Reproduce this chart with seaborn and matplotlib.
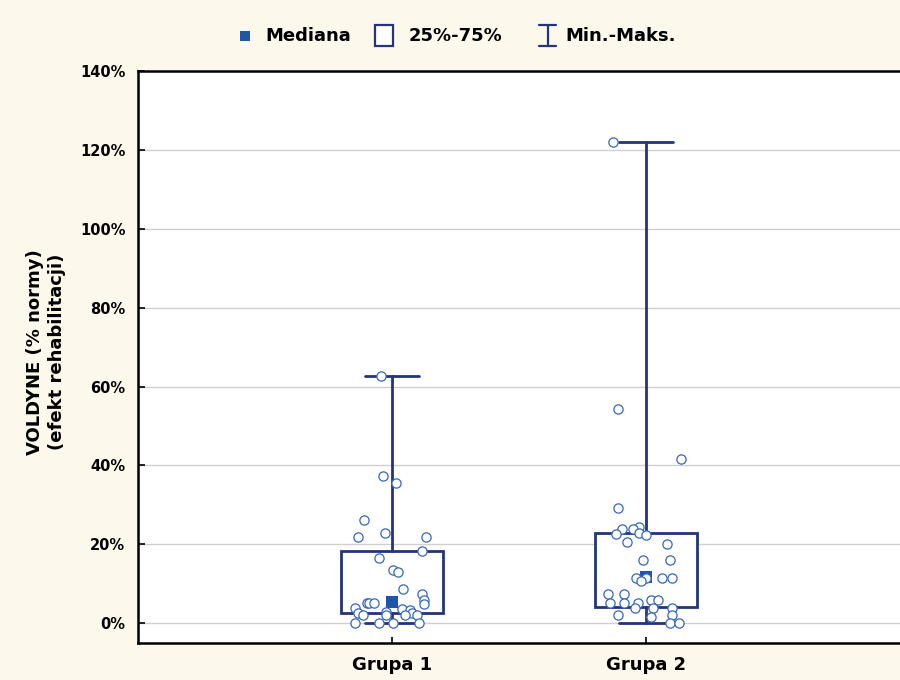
import numpy as np
import pandas as pd
import matplotlib
matplotlib.use("Agg")
import matplotlib.pyplot as plt
import seaborn as sns
from matplotlib.lines import Line2D
from matplotlib.patches import Rectangle
from matplotlib.ticker import FuncFormatter

# --- data -----------------------------------------------------------------
groups = ["Grupa 1", "Grupa 2"]

# individual observations (% of norm)
values_g1 = [62.7, 37.4, 35.6, 26.1, 21.9, 23.0, 21.9, 18.3, 16.5, 13.5, 13.0,
             8.7, 7.5, 6.0, 5.0, 5.2, 5.2, 5.2, 4.0, 2.7, 2.0, 2.9, 2.0, 3.5,
             3.3, 2.7, 2.0, 2.0, 0.0, 0.0, 0.0, 0.0]
values_g2 = [122.0, 54.3, 41.7, 29.1, 24.5, 23.8, 23.8, 22.6, 22.8, 22.4, 20.7,
             20.2, 16.0, 16.0, 11.6, 11.4, 10.7, 11.6, 11.6, 7.5, 7.5, 5.2, 5.2,
             5.2, 3.9, 5.8, 5.8, 3.9, 4.0, 2.0, 1.5, 2.0, 0.0, 0.0]

# horizontal spread of the points around each group centre
jitter_g1 = [-0.043, -0.034, 0.014, -0.109, -0.135, -0.026, 0.135, 0.117, -0.052,
             0.003, 0.022, 0.042, 0.117, 0.126, 0.126, -0.100, -0.089, -0.072,
             -0.144, -0.135, -0.115, -0.023, -0.023, 0.040, 0.072, 0.080, 0.053,
             0.098, -0.144, -0.052, 0.003, 0.106]
jitter_g2 = [-0.131, -0.111, 0.139, -0.111, -0.028, -0.094, -0.052, -0.120, -0.028,
             0.001, -0.074, 0.082, -0.013, 0.093, -0.039, 0.001, -0.019, 0.064,
             0.103, -0.149, -0.085, -0.141, -0.085, -0.032, -0.045, 0.018, 0.046,
             0.027, 0.103, -0.111, 0.018, 0.103, 0.093, 0.129]

# summary statistics shown by the boxes
medians = [5.5, 11.7]
q1 = [2.6, 4.2]
q3 = [18.2, 22.8]
mins = [0.0, 0.0]
maxs = [62.6, 122.0]

yticks = [0, 20, 40, 60, 80, 100, 120, 140]
legend_labels = ["Mediana", "25%-75%", "Min.-Maks."]

# --- style ----------------------------------------------------------------
NAVY = "#25337A"
BLUE = "#1F57A8"
POINT = "#3567B8"
CREAM = "#FDF8EC"
FONT = ["DejaVu Sans"]

sns.set_theme(style="white")
plt.rcParams["font.family"] = FONT
plt.rcParams["font.weight"] = "bold"
plt.rcParams["text.color"] = "black"
plt.rcParams["axes.labelcolor"] = "black"
plt.rcParams["xtick.color"] = "black"
plt.rcParams["ytick.color"] = "black"

W, H = 900, 680
fig = plt.figure(figsize=(W / 100, H / 100), dpi=100, facecolor=CREAM)
ax = fig.add_axes([0.1533, 0.0544, 0.8467, 0.8412])
ax.set_facecolor("white")

positions = [1, 2]

# boxes: 25%-75% range, whiskers to min / max
stats = []
for i, g in enumerate(groups):
    stats.append(dict(label=g, med=medians[i], q1=q1[i], q3=q3[i],
                      whislo=mins[i], whishi=maxs[i], fliers=[]))
ax.bxp(stats, positions=positions, widths=0.40, showfliers=False,
       patch_artist=True,
       boxprops=dict(facecolor="white", edgecolor=NAVY, linewidth=2.0),
       whiskerprops=dict(color=NAVY, linewidth=2.0),
       capprops=dict(color=NAVY, linewidth=2.0),
       medianprops=dict(linewidth=0),
       capwidths=0.21, zorder=2)

# median markers
med_df = pd.DataFrame({"pos": positions, "median": medians})
sns.scatterplot(data=med_df, x="pos", y="median", marker="s", s=80,
                color=BLUE, edgecolor=BLUE, linewidth=0, ax=ax, zorder=3,
                legend=False)

# individual observations
pts = pd.DataFrame({
    "pos": [1 + j for j in jitter_g1] + [2 + j for j in jitter_g2],
    "value": values_g1 + values_g2,
})
sns.scatterplot(data=pts, x="pos", y="value", marker="o", s=44,
                facecolor="white", edgecolor=POINT, linewidth=0.9,
                ax=ax, zorder=4, legend=False)

# --- axes -----------------------------------------------------------------
ax.set_xlim(0, 3)
ax.set_ylim(-5, 140)
ax.set_xticks(positions)
ax.set_xticklabels(groups, fontsize=13, fontweight="bold", color="black")
ax.set_yticks(yticks)
ax.yaxis.set_major_formatter(FuncFormatter(lambda v, p: f"{v:.0f}%"))
ax.tick_params(axis="y", labelsize=10.5, direction="in", length=5, width=1.2,
               left=True, right=False, pad=9, colors="black")
ax.tick_params(axis="x", direction="in", length=4, width=1.2, bottom=True,
               pad=9, colors="black")
for lab in ax.get_yticklabels():
    lab.set_fontweight("bold")
ax.grid(axis="y", color="#CFCFCF", linewidth=1.0, zorder=0)
ax.set_axisbelow(True)
for side in ["left", "top", "bottom"]:
    ax.spines[side].set_visible(True)
    ax.spines[side].set_color("black")
    ax.spines[side].set_linewidth(1.8)
ax.spines["right"].set_visible(False)
ax.set_xlabel("")
ax.set_ylabel("VOLDYNE (% normy)\n(efekt rehabilitacji)", fontsize=13,
              fontweight="bold", color="black", linespacing=1.3)
ax.yaxis.set_label_coords(-0.094, 0.509)


# --- legend row above the plot ----------------------------------------------
def fx(px):
    return px / W


def fy(py):
    return 1 - py / H


ly = 36
# median symbol
fig.add_artist(Rectangle((fx(240), fy(ly + 5)), 10 / W, 10 / H,
                         transform=fig.transFigure, facecolor=BLUE,
                         edgecolor="none"))
# box symbol
fig.add_artist(Rectangle((fx(375), fy(46)), 18 / W, 21 / H,
                         transform=fig.transFigure, facecolor="white",
                         edgecolor=NAVY, linewidth=1.6))
# min-max symbol
for xs, ys in [([547.5, 547.5], [25, 46]), ([539, 556], [25, 25]),
               ([539, 556], [46, 46])]:
    fig.add_artist(Line2D([fx(x) for x in xs], [fy(y) for y in ys],
                          transform=fig.transFigure, color=NAVY,
                          linewidth=1.6))
for x0, txt in zip([265, 409, 565], legend_labels):
    fig.text(fx(x0), fy(ly), txt, ha="left", va="center", fontsize=13,
             fontweight="bold", color="black")

fig.savefig("out.png", dpi=100, facecolor=CREAM)
